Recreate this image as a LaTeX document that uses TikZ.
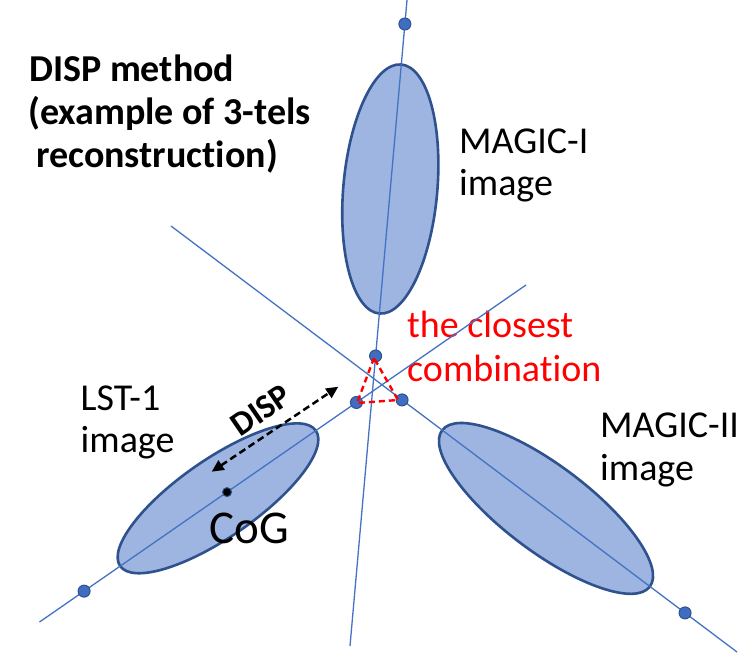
\documentclass[tikz,border=0pt]{standalone}
\usepackage{fontspec}
\setmainfont[Ligatures={CommonOff,ContextualOff},RawFeature={-liga;-clig}]{Carlito}
\usetikzlibrary{arrows.meta,calc}
\definecolor{linecol}{HTML}{4472C4}
\definecolor{ellfill}{HTML}{9DB5E0}
\definecolor{elldraw}{HTML}{2F528F}
\definecolor{dotfill}{HTML}{3E6DC2}
\definecolor{redline}{HTML}{FF0000}
\begin{document}
\begin{tikzpicture}[x=1pt,y=-1pt,
  ell/.style={fill=ellfill, draw=elldraw, line width=2.6pt},
  axisline/.style={draw=linecol, line width=1.3pt},
  dot/.style={circle, fill=dotfill, draw=elldraw, line width=1pt, minimum size=12pt, inner sep=0pt},
  cogdot/.style={circle, fill=black, draw=elldraw, line width=1pt, minimum size=9pt, inner sep=0pt},
  txt/.style={inner sep=0pt, anchor=base west, font=\fontsize{38}{44}\selectfont},
  btxt/.style={inner sep=0pt, anchor=base west, font=\bfseries\fontsize{38}{44}\selectfont},
  redtxt/.style={txt, text=redline},
  redtri/.style={draw=redline, line width=2.4pt, dash pattern=on 6pt off 4pt},
  disparr/.style={draw=black, line width=2.5pt, dash pattern=on 7pt off 4pt,
    {Triangle[length=12pt,width=11pt]}-{Triangle[length=12pt,width=11pt]}}
]
\useasboundingbox (0,0) rectangle (752,665);
\fill[white] (0,0) rectangle (752,665);

% ellipses (images)
\draw[ell, rotate around={85:(390.3,189)}] (390.3,189) ellipse [x radius=125, y radius=47];
\draw[ell, rotate around={-36.97:(546,508.4)}] (546,508.4) ellipse [x radius=130, y radius=43];
\draw[ell, rotate around={34.68:(218,498.3)}] (218,498.3) ellipse [x radius=119, y radius=39];

% labels
\node[btxt] (t1) at (29,81) {DISP method};
\node[btxt] (t2) at (28,124) {(example of 3-tels};
\node[btxt] (t3) at (36,167) {reconstruction)};
\node[txt] (m1a) at (459,153) {MAGIC-I};
\node[txt] (m1b) at (459,195) {image};
\node[txt] (l1a) at (80.5,410) {LST-1};
\node[txt] (l1b) at (80.5,452) {image};
\node[txt] (m2a) at (600,437) {MAGIC-II};
\node[txt] (m2b) at (600,480) {image};
\node[redtxt] (c1) at (407,337) {the closest};
\node[redtxt] (c2) at (407,381) {combination};

% axis lines
\coordinate (vA) at (407,0);   \coordinate (vB) at (350,646);
\coordinate (uA) at (171,226); \coordinate (uB) at (737,652);
\coordinate (lA) at (39.5,622); \coordinate (lB) at (526,285);
\draw[axisline] (vA) -- (vB);
\draw[axisline] (uA) -- (uB);
\draw[axisline] (lA) -- (lB);

% source position dots
\node[dot] (dv) at ($(vA)!(405,24)!(vB)$) {};
\node[dot] (du) at ($(uA)!(685,613)!(uB)$) {};
\node[dot] (dl) at ($(lA)!(84,591)!(lB)$) {};
\node[dot] (iv) at ($(vA)!(375.5,356)!(vB)$) {};
\node[dot] (il) at ($(lA)!(356.5,402.5)!(lB)$) {};
\node[dot] (iu) at ($(uA)!(402,400)!(uB)$) {};

% closest combination triangle
\coordinate (r1) at (374,358);
\coordinate (r2) at (357,403);
\coordinate (r3) at (398,400);
\draw[redtri] (r1) -- (r2) -- (r3) -- cycle;

% DISP arrow
\coordinate (da) at (211.7,471.7);
\coordinate (db) at (338.3,386.7);
\draw[disparr] (da) -- (db);
\node[inner sep=0pt, rotate=34.5, font=\bfseries\fontsize{34}{40}\selectfont] (displbl) at (261,410) {DISP};

% CoG
\node[cogdot] (cog) at ($(lA)!(227,492)!(lB)$) {};
\node[txt, font=\fontsize{47}{56}\selectfont] (cogt) at (209.5,543) {CoG};
\end{tikzpicture}
\end{document}
